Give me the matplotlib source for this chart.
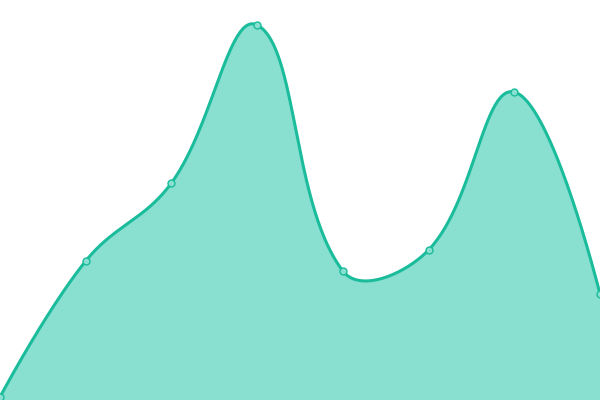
import numpy as np
import matplotlib
matplotlib.use("Agg")
import matplotlib.pyplot as plt

# data (pixels above the bottom edge)
labels = ["A", "B", "C", "D", "E", "F", "G", "H"]
values = [3, 139, 217, 375, 129, 150, 308, 106]

line_col = "#1abc9c"
fill_col = "#89e0d0"

fig = plt.figure(figsize=(6, 4), dpi=100)
ax = fig.add_axes([0, 0, 1, 1])
ax.set_xlim(0, len(values) - 1)
ax.set_ylim(0, 400)
ax.axis("off")

# chart.js style bezier smoothing (tension 0.4) computed in pixel space
xs = np.arange(len(values))
pts = ax.transData.transform(np.column_stack([xs, values]))
t = 0.4
n = len(pts)
cp_prev = pts.copy()
cp_next = pts.copy()
for i in range(1, n - 1):
    p0, p1, p2 = pts[i - 1], pts[i], pts[i + 1]
    d01 = np.hypot(*(p1 - p0))
    d12 = np.hypot(*(p2 - p1))
    s01 = d01 / (d01 + d12)
    s12 = d12 / (d01 + d12)
    cp_prev[i] = p1 - t * s01 * (p2 - p0)
    cp_next[i] = p1 + t * s12 * (p2 - p0)

curve = []
s = np.linspace(0, 1, 60)[:, None]
for i in range(n - 1):
    a, b, c, d = pts[i], cp_next[i], cp_prev[i + 1], pts[i + 1]
    seg = (1 - s) ** 3 * a + 3 * (1 - s) ** 2 * s * b + 3 * (1 - s) * s ** 2 * c + s ** 3 * d
    curve.append(seg)
curve = np.vstack(curve)
curve = ax.transData.inverted().transform(curve)

ax.fill_between(curve[:, 0], curve[:, 1], 0, color=fill_col, linewidth=0)
ax.plot(curve[:, 0], curve[:, 1], color=line_col, linewidth=2.2, solid_capstyle="round")
ax.plot(xs, values, "o", markersize=5, markerfacecolor=fill_col,
        markeredgecolor=line_col, markeredgewidth=1, clip_on=False)

fig.savefig("out.png", dpi=100)
